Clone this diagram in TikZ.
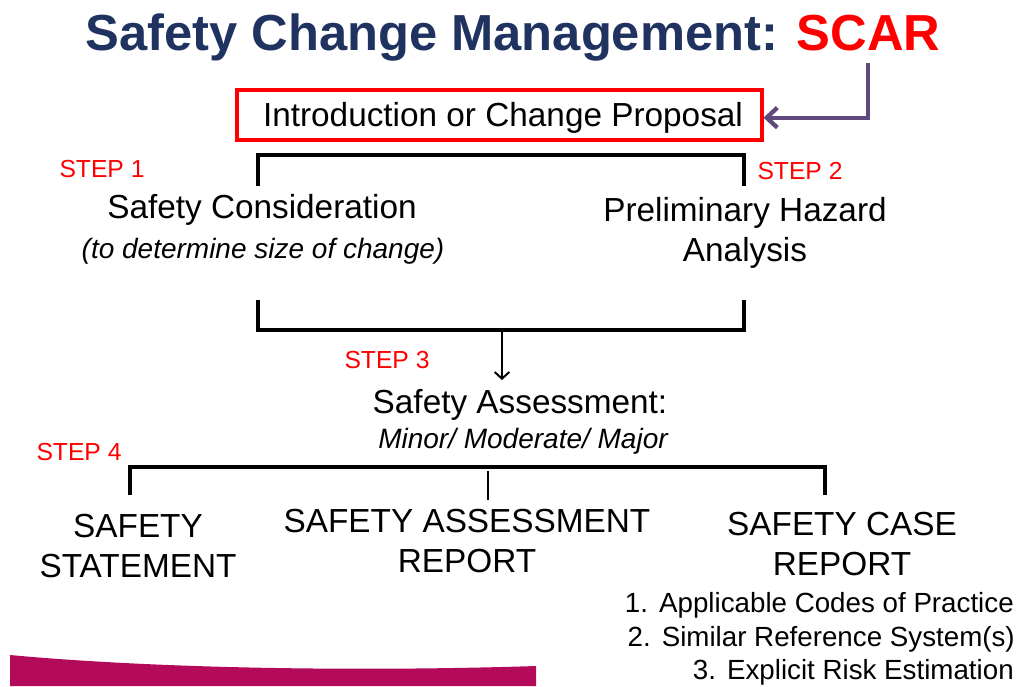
\documentclass[tikz,border=0pt]{standalone}
\usepackage{fontspec}
\setmainfont{Liberation Sans}
\usetikzlibrary{arrows.meta}
\definecolor{navy}{RGB}{31,50,96}
\definecolor{scarred}{RGB}{255,0,0}
\definecolor{purp}{RGB}{96,74,123}
\definecolor{mag}{RGB}{180,10,90}
\begin{document}
\begin{tikzpicture}[x=0.75pt,y=-0.75pt,
 big/.style={font=\fontsize{25}{30}\selectfont, align=center, inner sep=0pt},
 ital/.style={font=\fontsize{21}{25}\selectfont\itshape, inner sep=0pt},
 steplbl/.style={font=\fontsize{18.5}{22}\selectfont, text=scarred, inner sep=0pt},
 brk/.style={line width=2.3pt},
 listitem/.style={font=\fontsize{20.8}{25}\selectfont, inner sep=0pt, anchor=east}]
\useasboundingbox (0,0) rectangle (1019,686);
% decorative band
\fill[mag] (10,655) .. controls (150,668) and (350,672) .. (536,666) -- (536,686) -- (10,686) -- cycle;
% title
\node[font=\fontsize{38}{44}\selectfont\bfseries, text=navy, inner sep=0pt] (title) at (513,38) {Safety Change Management: \textcolor{scarred}{SCAR}};
% proposal box
\node[draw=scarred, line width=2.3pt, minimum width=393.75pt, minimum height=37.5pt] (intro) at (499.5,115) {};
\node[big] (introtxt) at (503,118) {Introduction or Change Proposal};
\coordinate (pstart) at (868,63);
\draw[purp, line width=3.2pt, -{Straight Barb[length=8pt,width=15pt]}] (pstart) |- ([yshift=-2pt]intro.east);
% step 1 / 2
\node[steplbl] (s1) at (102,169) {STEP 1};
\node[steplbl] (s2) at (800,171) {STEP 2};
\coordinate (b1a) at (258,186);
\coordinate (b1b) at (258,155);
\coordinate (b1c) at (744,155);
\coordinate (b1d) at (744,186);
\draw[brk] (b1a) -- (b1b) -- (b1c) -- (b1d);
\node[big] (sc) at (262,210) {Safety Consideration};
\node[ital] (sc2) at (263,251) {(to determine size of change)};
\node[big] (pha) at (745,233) {Preliminary Hazard\\Analysis};
% bracket 2
\coordinate (b2a) at (258,300);
\coordinate (b2b) at (258,330);
\coordinate (b2c) at (744,330);
\coordinate (b2d) at (744,300);
\coordinate (b2m) at (502,330);
\coordinate (b2e) at (502,380);
\draw[brk] (b2a) -- (b2b) -- (b2c) -- (b2d);
\node[steplbl] (s3) at (387,360) {STEP 3};
\node[big] (sa) at (520,405) {Safety Assessment:};
\node[ital] (mmm) at (523,441) {Minor/ Moderate/ Major};
\draw[line width=1.5pt, -{Straight Barb[length=5pt,width=11pt]}] (b2m) -- (b2e);
% step 4
\node[steplbl] (s4) at (79,452) {STEP 4};
\coordinate (b3a) at (130,495);
\coordinate (b3b) at (130,467);
\coordinate (b3c) at (825,467);
\coordinate (b3d) at (825,495);
\coordinate (b3m) at (488,471);
\coordinate (b3e) at (488,500);
\draw[brk] (b3a) -- (b3b) -- (b3c) -- (b3d);
\draw[line width=2pt] (b3m) -- (b3e);
\node[big] (ss) at (138,546) {SAFETY\\STATEMENT};
\node[big] (sar) at (467,541) {SAFETY ASSESSMENT\\REPORT};
\node[big] (scr) at (842,544) {SAFETY CASE\\REPORT};
% list
\node[listitem] (l1) at (1014,605) {1.\hspace{0.4em}Applicable Codes of Practice};
\node[listitem] (l2) at (1015,639) {2.\hspace{0.4em}Similar Reference System(s)};
\node[listitem] (l3) at (1014,672) {3.\hspace{0.4em}Explicit Risk Estimation};
\end{tikzpicture}
\end{document}
